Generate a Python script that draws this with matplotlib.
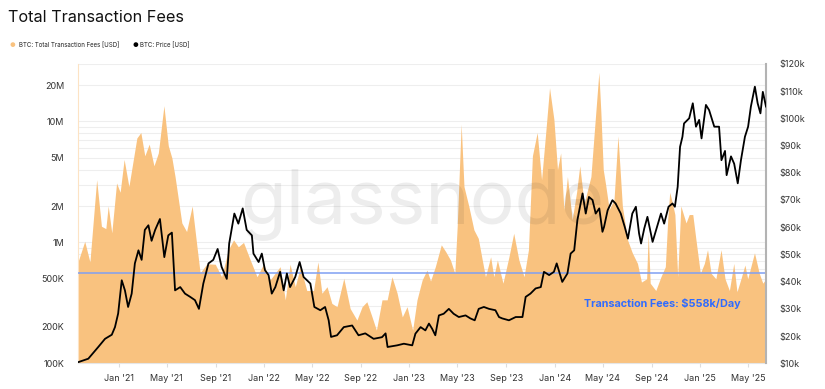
import numpy as np
import pandas as pd
import matplotlib
matplotlib.use('Agg')
import matplotlib.pyplot as plt
import matplotlib.dates as mdates
from matplotlib.ticker import FixedLocator, NullFormatter

# BTC total transaction fees per day [USD]
fee_dates = [
    '2020-09-20', '2020-10-07', '2020-10-20', '2020-11-06', '2020-11-18', '2020-11-29',
    '2020-12-05', '2020-12-14', '2020-12-26', '2021-01-04', '2021-01-14', '2021-01-26',
    '2021-02-15', '2021-02-25', '2021-03-07', '2021-03-18', '2021-03-30', '2021-04-10',
    '2021-04-24', '2021-05-05', '2021-05-14', '2021-05-22', '2021-06-08', '2021-06-20',
    '2021-07-04', '2021-07-16', '2021-07-24', '2021-08-10', '2021-08-31', '2021-09-16',
    '2021-10-03', '2021-10-16', '2021-10-28', '2021-11-10', '2021-11-27', '2021-12-14',
    '2021-12-30', '2022-01-16', '2022-02-10', '2022-02-23', '2022-03-07', '2022-03-20',
    '2022-04-02', '2022-04-18', '2022-05-05', '2022-05-16', '2022-05-26', '2022-06-08',
    '2022-06-20', '2022-07-03', '2022-07-20', '2022-08-05', '2022-08-22', '2022-09-04',
    '2022-09-16', '2022-09-29', '2022-10-10', '2022-10-24', '2022-11-06', '2022-11-18',
    '2022-12-01', '2022-12-14', '2022-12-26', '2023-01-09', '2023-01-20', '2023-02-02',
    '2023-02-14', '2023-02-23', '2023-03-07', '2023-03-22', '2023-04-02', '2023-04-14',
    '2023-04-25', '2023-05-01', '2023-05-11', '2023-05-18', '2023-05-30', '2023-06-12',
    '2023-06-23', '2023-07-03', '2023-07-11', '2023-07-24', '2023-08-01', '2023-08-10',
    '2023-08-24', '2023-09-08', '2023-09-20', '2023-10-03', '2023-10-16', '2023-10-27',
    '2023-11-06', '2023-11-18', '2023-11-29', '2023-12-09', '2023-12-19', '2023-12-30',
    '2024-01-08', '2024-01-16', '2024-01-24', '2024-02-02', '2024-02-14', '2024-02-25',
    '2024-03-04', '2024-03-15', '2024-04-01', '2024-04-09', '2024-04-21', '2024-04-26',
    '2024-05-02', '2024-05-08', '2024-05-17', '2024-05-29', '2024-06-08', '2024-06-19',
    '2024-07-02', '2024-07-14', '2024-07-27', '2024-08-06', '2024-08-19', '2024-08-23',
    '2024-08-28', '2024-09-11', '2024-09-24', '2024-10-05', '2024-10-11', '2024-10-16',
    '2024-10-23', '2024-10-29', '2024-11-05', '2024-11-13', '2024-11-26', '2024-12-04',
    '2024-12-13', '2024-12-21', '2025-01-01', '2025-01-11', '2025-01-19', '2025-01-28',
    '2025-02-09', '2025-02-22', '2025-03-04', '2025-03-15', '2025-03-26', '2025-04-03',
    '2025-04-13', '2025-04-23', '2025-04-30', '2025-05-17', '2025-05-29', '2025-06-07',
    '2025-06-15',
]
fee_usd = [
    690e3, 1.02e6, 690e3, 3.3e6, 1.36e6, 1.3e6,
    2.0e6, 1.2e6, 3.1e6, 2.6e6, 4.85e6, 2.9e6,
    7.3e6, 8.1e6, 5.2e6, 6.5e6, 4.3e6, 5.5e6,
    13.5e6, 6.3e6, 5.0e6, 3.5e6, 1.45e6, 1.23e6,
    2.0e6, 925e3, 560e3, 665e3, 660e3, 520e3,
    870e3, 1.05e6, 920e3, 1.0e6, 715e3, 520e3,
    660e3, 490e3, 630e3, 335e3, 660e3, 430e3,
    630e3, 400e3, 400e3, 690e3, 380e3, 430e3,
    313e3, 294e3, 505e3, 284e3, 228e3, 294e3,
    323e3, 242e3, 188e3, 335e3, 335e3, 520e3,
    380e3, 242e3, 294e3, 188e3, 335e3, 490e3,
    590e3, 480e3, 630e3, 955e3, 840e3, 715e3,
    555e3, 1.36e6, 9.5e6, 2.9e6, 2.0e6, 1.27e6,
    1.08e6, 715e3, 520e3, 760e3, 520e3, 715e3,
    460e3, 760e3, 1.19e6, 715e3, 520e3, 870e3,
    5.2e6, 8.1e6, 3.3e6, 7.8e6, 19e6, 10.4e6,
    4.0e6, 5.5e6, 1.87e6, 3.5e6, 1.54e6, 2.6e6,
    4.3e6, 2.1e6, 3.5e6, 7.8e6, 25.5e6, 12e6,
    4.0e6, 3.0e6, 1.87e6, 2.25e6, 7.6e6, 2.0e6,
    1.05e6, 820e3, 670e3, 470e3, 500e3, 1.19e6,
    460e3, 400e3, 520e3, 630e3, 1.54e6, 2.6e6,
    2.1e6, 1.7e6, 520e3, 2.0e6, 1.45e6, 1.7e6,
    1.7e6, 1.05e6, 555e3, 670e3, 870e3, 555e3,
    500e3, 870e3, 500e3, 400e3, 670e3, 390e3,
    500e3, 650e3, 500e3, 820e3, 555e3, 460e3,
    500e3,
]

# BTC price [USD]
price_dates = [
    '2020-09-22', '2020-10-16', '2020-11-10', '2020-11-27', '2020-12-14', '2020-12-22',
    '2020-12-30', '2021-01-08', '2021-01-16', '2021-01-24', '2021-02-02', '2021-02-10',
    '2021-02-19', '2021-02-27', '2021-03-07', '2021-03-16', '2021-03-24', '2021-04-02',
    '2021-04-14', '2021-04-25', '2021-05-05', '2021-05-14', '2021-05-22', '2021-06-04',
    '2021-06-16', '2021-06-29', '2021-07-11', '2021-07-21', '2021-08-01', '2021-08-14',
    '2021-08-26', '2021-09-06', '2021-09-16', '2021-09-29', '2021-10-05', '2021-10-18',
    '2021-10-28', '2021-11-08', '2021-11-18', '2021-12-01', '2021-12-05', '2021-12-18',
    '2021-12-26', '2022-01-03', '2022-01-12', '2022-01-20', '2022-01-29', '2022-02-10',
    '2022-02-19', '2022-02-27', '2022-03-07', '2022-03-20', '2022-03-31', '2022-04-10',
    '2022-04-27', '2022-05-07', '2022-05-22', '2022-06-03', '2022-06-12', '2022-06-18',
    '2022-07-03', '2022-07-20', '2022-08-10', '2022-08-26', '2022-09-12', '2022-10-03',
    '2022-10-24', '2022-11-02', '2022-11-07', '2022-12-01', '2022-12-18', '2023-01-08',
    '2023-01-16', '2023-01-29', '2023-02-10', '2023-02-19', '2023-02-27', '2023-03-07',
    '2023-03-16', '2023-03-28', '2023-04-10', '2023-04-22', '2023-05-05', '2023-05-22',
    '2023-06-03', '2023-06-14', '2023-06-24', '2023-07-07', '2023-07-20', '2023-08-05',
    '2023-08-14', '2023-08-22', '2023-09-08', '2023-09-25', '2023-10-12', '2023-10-20',
    '2023-11-01', '2023-11-14', '2023-11-27', '2023-12-05', '2023-12-18', '2023-12-30',
    '2024-01-06', '2024-01-20', '2024-02-02', '2024-02-10', '2024-02-19', '2024-02-27',
    '2024-03-11', '2024-03-19', '2024-03-27', '2024-04-05', '2024-04-13', '2024-04-22',
    '2024-04-30', '2024-05-04', '2024-05-13', '2024-05-25', '2024-06-02', '2024-06-15',
    '2024-06-25', '2024-07-03', '2024-07-14', '2024-07-23', '2024-07-31', '2024-08-05',
    '2024-08-13', '2024-08-21', '2024-09-03', '2024-09-14', '2024-09-24', '2024-10-02',
    '2024-10-13', '2024-10-23', '2024-10-29', '2024-11-05', '2024-11-11', '2024-11-17',
    '2024-11-21', '2024-12-04', '2024-12-13', '2024-12-21', '2024-12-29', '2025-01-04',
    '2025-01-15', '2025-01-23', '2025-02-05', '2025-02-17', '2025-02-23', '2025-03-04',
    '2025-03-08', '2025-03-19', '2025-03-27', '2025-04-05', '2025-04-13', '2025-04-23',
    '2025-05-01', '2025-05-08', '2025-05-18', '2025-05-25', '2025-06-01', '2025-06-07',
    '2025-06-15',
]
price_usd = [
    10.5e3, 11.7e3, 16e3, 19e3, 20.5e3, 23.3e3,
    28.3e3, 40.5e3, 36.8e3, 30.7e3, 35.6e3, 46.7e3,
    51.5e3, 48e3, 59e3, 60.7e3, 55e3, 59e3,
    63e3, 49e3, 57e3, 58e3, 36.8e3, 38e3,
    35.6e3, 34.4e3, 33.2e3, 30e3, 39.3e3, 46.7e3,
    48e3, 52e3, 45.4e3, 41e3, 54e3, 65e3,
    61.3e3, 66.9e3, 59e3, 57e3, 50.3e3, 47.2e3,
    50.3e3, 44.2e3, 42.4e3, 35.6e3, 38e3, 43.6e3,
    36.8e3, 43e3, 38e3, 41.7e3, 47.2e3, 41.7e3,
    39.3e3, 30.7e3, 29.5e3, 30.7e3, 25.8e3, 19.7e3,
    20.3e3, 23.3e3, 23.9e3, 20.3e3, 21e3, 19e3,
    19.6e3, 21e3, 16e3, 16.6e3, 17.2e3, 16.6e3,
    20.9e3, 23.3e3, 22.1e3, 24.6e3, 22.7e3, 20.3e3,
    27.6e3, 28.2e3, 30e3, 28.2e3, 27e3, 27.6e3,
    26.5e3, 25.8e3, 30e3, 30.7e3, 30e3, 29.5e3,
    27e3, 26.5e3, 25.8e3, 27e3, 27e3, 34.4e3,
    35.6e3, 37.5e3, 38e3, 43.6e3, 42.4e3, 43.6e3,
    46.7e3, 39.9e3, 43e3, 50.3e3, 51.5e3, 62.6e3,
    72.4e3, 65e3, 71.1e3, 70e3, 65e3, 66.9e3,
    58.3e3, 60.1e3, 66.2e3, 69.9e3, 68.7e3, 65e3,
    60.1e3, 55.8e3, 65e3, 67.5e3, 57.7e3, 54e3,
    59.5e3, 63.8e3, 54.6e3, 60.1e3, 65e3, 61.3e3,
    67.5e3, 68.7e3, 67.5e3, 74.8e3, 89.5e3, 93.2e3,
    98.1e3, 100e3, 105.5e3, 96.9e3, 99.4e3, 92.6e3,
    104.9e3, 103e3, 96.9e3, 96.9e3, 84.6e3, 88e3,
    79.1e3, 86e3, 83.3e3, 76.1e3, 84.6e3, 93.2e3,
    96.9e3, 104.3e3, 111.6e3, 105.5e3, 101.8e3, 109.7e3,
    104.3e3,
]

avg_fee = 558e3

fee_ticks = [1e5, 2e5, 5e5, 1e6, 2e6, 5e6, 1e7, 2e7]
fee_labels = ['100K', '200K', '500K', '1M', '2M', '5M', '10M', '20M']
price_ticks = [v * 1e3 for v in range(10, 130, 10)]
price_labels = ['$%dk' % v for v in range(10, 130, 10)]
month_ticks = pd.date_range('2021-01-01', '2025-05-01', freq='4MS')

ORANGE = '#f9c27f'
BLUE = '#2f6bff'


def main():
    plt.rcParams['font.family'] = ['Inter', 'DejaVu Sans']

    fd = pd.to_datetime(fee_dates)
    pdt = pd.to_datetime(price_dates)

    fig = plt.figure(figsize=(8.25, 3.89), dpi=100)
    ax = fig.add_axes([0.0945, 0.066, 0.834, 0.770])

    # fees (left, log)
    ax.set_yscale('log')
    ax.fill_between(fd, 1e5, fee_usd, color=ORANGE, lw=0, zorder=2)
    ax.set_ylim(1e5, 3.0e7)
    ax.set_xlim(fd[0], fd[-1])
    ax.set_yticks(fee_ticks, fee_labels)
    minor = [m * 10 ** e for e in range(5, 8) for m in range(1, 10)]
    ax.yaxis.set_minor_locator(FixedLocator(minor))
    ax.yaxis.set_minor_formatter(NullFormatter())
    ax.grid(axis='y', which='both', color='#eeeeee', lw=0.8, zorder=0)
    ax.tick_params(axis='y', which='both', length=0, labelsize=6.5,
                   labelcolor='#333333', pad=10)
    ax.axhline(avg_fee, color='#7f9ff2', lw=1.1, zorder=3)

    ax.set_xticks(month_ticks)
    ax.xaxis.set_major_formatter(mdates.DateFormatter("%b '%y"))
    ax.tick_params(axis='x', length=3, color='#dddddd', labelsize=6.5,
                   labelcolor='#333333', pad=5)

    for s in ['top', 'right']:
        ax.spines[s].set_visible(False)
    ax.spines['left'].set_color('#fde3c4')
    ax.spines['bottom'].set_color('#e6e6e6')

    # price (right)
    ax2 = ax.twinx()
    ax2.plot(pdt, price_usd, color='black', lw=1.3, zorder=4)
    ax2.set_ylim(1e4, 1.2e5)
    ax2.set_yticks(price_ticks, price_labels)
    ax2.tick_params(axis='y', length=0, labelsize=6.5, labelcolor='#333333', pad=10)
    for s in ['top', 'left', 'bottom']:
        ax2.spines[s].set_visible(False)
    ax2.spines['right'].set_color('#b3b3b3')
    ax2.spines['right'].set_linewidth(1.5)

    ax2.text(0.85, 0.201, 'Transaction Fees: $558k/Day', transform=ax2.transAxes,
             ha='center', va='center', color=BLUE, fontsize=7.8, fontweight='bold')

    fig.text(0.512, 0.475, 'glassnode', ha='center', va='center', fontsize=54,
             color='#000000', alpha=0.07, zorder=10)

    fig.text(0.01, 0.955, 'Total Transaction Fees', ha='left', va='center',
             fontsize=11.7, color='#111111')

    # legend
    fig.text(0.012, 0.884, '\u25CF', color=ORANGE, fontsize=4.6, va='center')
    fig.text(0.023, 0.884, 'BTC: Total Transaction Fees [USD]', fontsize=4.4,
             va='center', color='#222222')
    fig.text(0.161, 0.884, '\u25CF', color='black', fontsize=4.6, va='center')
    fig.text(0.170, 0.884, 'BTC: Price [USD]', fontsize=4.4, va='center', color='#222222')

    fig.savefig('out.png', dpi=100)


if __name__ == "__main__":
    main()
